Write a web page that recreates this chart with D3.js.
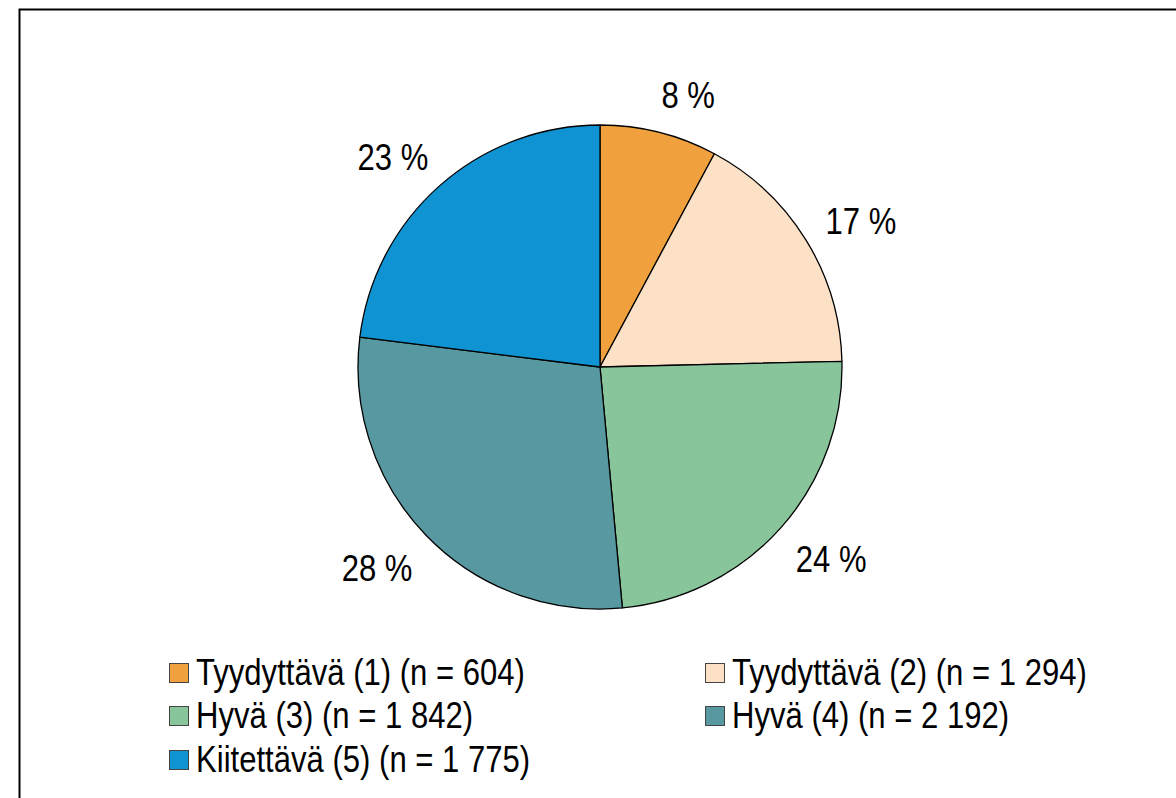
<!DOCTYPE html>
<html>
<head>
<meta charset="utf-8">
<script src="https://cdn.jsdelivr.net/npm/d3@7"></script>
<style>
  body { margin: 0; background: #fff; }
  svg text { font-family: "Liberation Sans Narrow", "Arial Narrow", "Liberation Sans", Arial, sans-serif; fill: #000; }
</style>
</head>
<body>
<div id="chart"></div>
<script>
var categories = ["Tyydyttävä (1)", "Tyydyttävä (2)", "Hyvä (3)", "Hyvä (4)", "Kiitettävä (5)"];
var counts = [604, 1294, 1842, 2192, 1775];
var countLabels = ["604", "1 294", "1 842", "2 192", "1 775"];
var colors = ["#f0a03c", "#fce1c6", "#88c59a", "#5898a1", "#0f93d2"];

var width = 1176, height = 798;
var cx = 600, cy = 367, radius = 242;
var squeeze = 0.84; // no narrow font installed, so condense the regular one

var svg = d3.select("#chart")
    .append("svg")
    .attr("width", width)
    .attr("height", height);

// outer frame (runs off the right and bottom edges)
svg.append("rect")
    .attr("x", 19.5)
    .attr("y", 9.5)
    .attr("width", 1200)
    .attr("height", 820)
    .attr("fill", "none")
    .attr("stroke", "#000")
    .attr("stroke-width", 2);

var data = categories.map(function (c, i) { return { key: c, value: counts[i], i: i }; });
var total = d3.sum(counts);

var pie = d3.pie()
    .sort(null)
    .value(function (d) { return d.value; });

var arcGen = d3.arc()
    .innerRadius(0)
    .outerRadius(radius);

var g = svg.append("g")
    .attr("transform", "translate(" + cx + "," + cy + ")");

var slices = pie(data);

g.selectAll("path")
    .data(slices)
    .enter()
    .append("path")
    .attr("d", arcGen)
    .attr("fill", function (d) { return colors[d.data.i]; })
    .attr("stroke", "#000")
    .attr("stroke-width", 1.3)
    .attr("stroke-linejoin", "round");

// percentage labels outside the pie
var labelR = 284;
g.selectAll("text.pct")
    .data(slices)
    .enter()
    .append("text")
    .attr("class", "pct")
    .attr("transform", function (d) {
        var a = (d.startAngle + d.endAngle) / 2;
        var x = labelR * Math.sin(a) + (Math.sin(a) >= 0 ? 19 : -19);
        var y = -labelR * Math.cos(a) + 3;
        return "translate(" + x + "," + y + ") scale(" + squeeze + ",1)";
    })
    .attr("text-anchor", "middle")
    .attr("dominant-baseline", "central")
    .style("font-size", "37px")
    .text(function (d) { return Math.round(d.data.value / total * 100) + " %"; });

// legend, two columns
var legendX = [169, 705];
var legendY = [663, 706, 750];
var box = 20;

var legend = svg.selectAll("g.legend")
    .data(data)
    .enter()
    .append("g")
    .attr("class", "legend")
    .attr("transform", function (d) {
        return "translate(" + legendX[d.i % 2] + "," + legendY[Math.floor(d.i / 2)] + ")";
    });

legend.append("rect")
    .attr("x", 0.5)
    .attr("y", 0.5)
    .attr("width", box - 1)
    .attr("height", box - 1)
    .attr("fill", function (d) { return colors[d.i]; })
    .attr("stroke", "#444")
    .attr("stroke-width", 1);

legend.append("text")
    .attr("transform", "translate(" + (box + 7) + ",22) scale(" + squeeze + ",1)")
    .style("font-size", "37px")
    .text(function (d) { return d.key + " (n = " + countLabels[d.i] + ")"; });
</script>
</body>
</html>
